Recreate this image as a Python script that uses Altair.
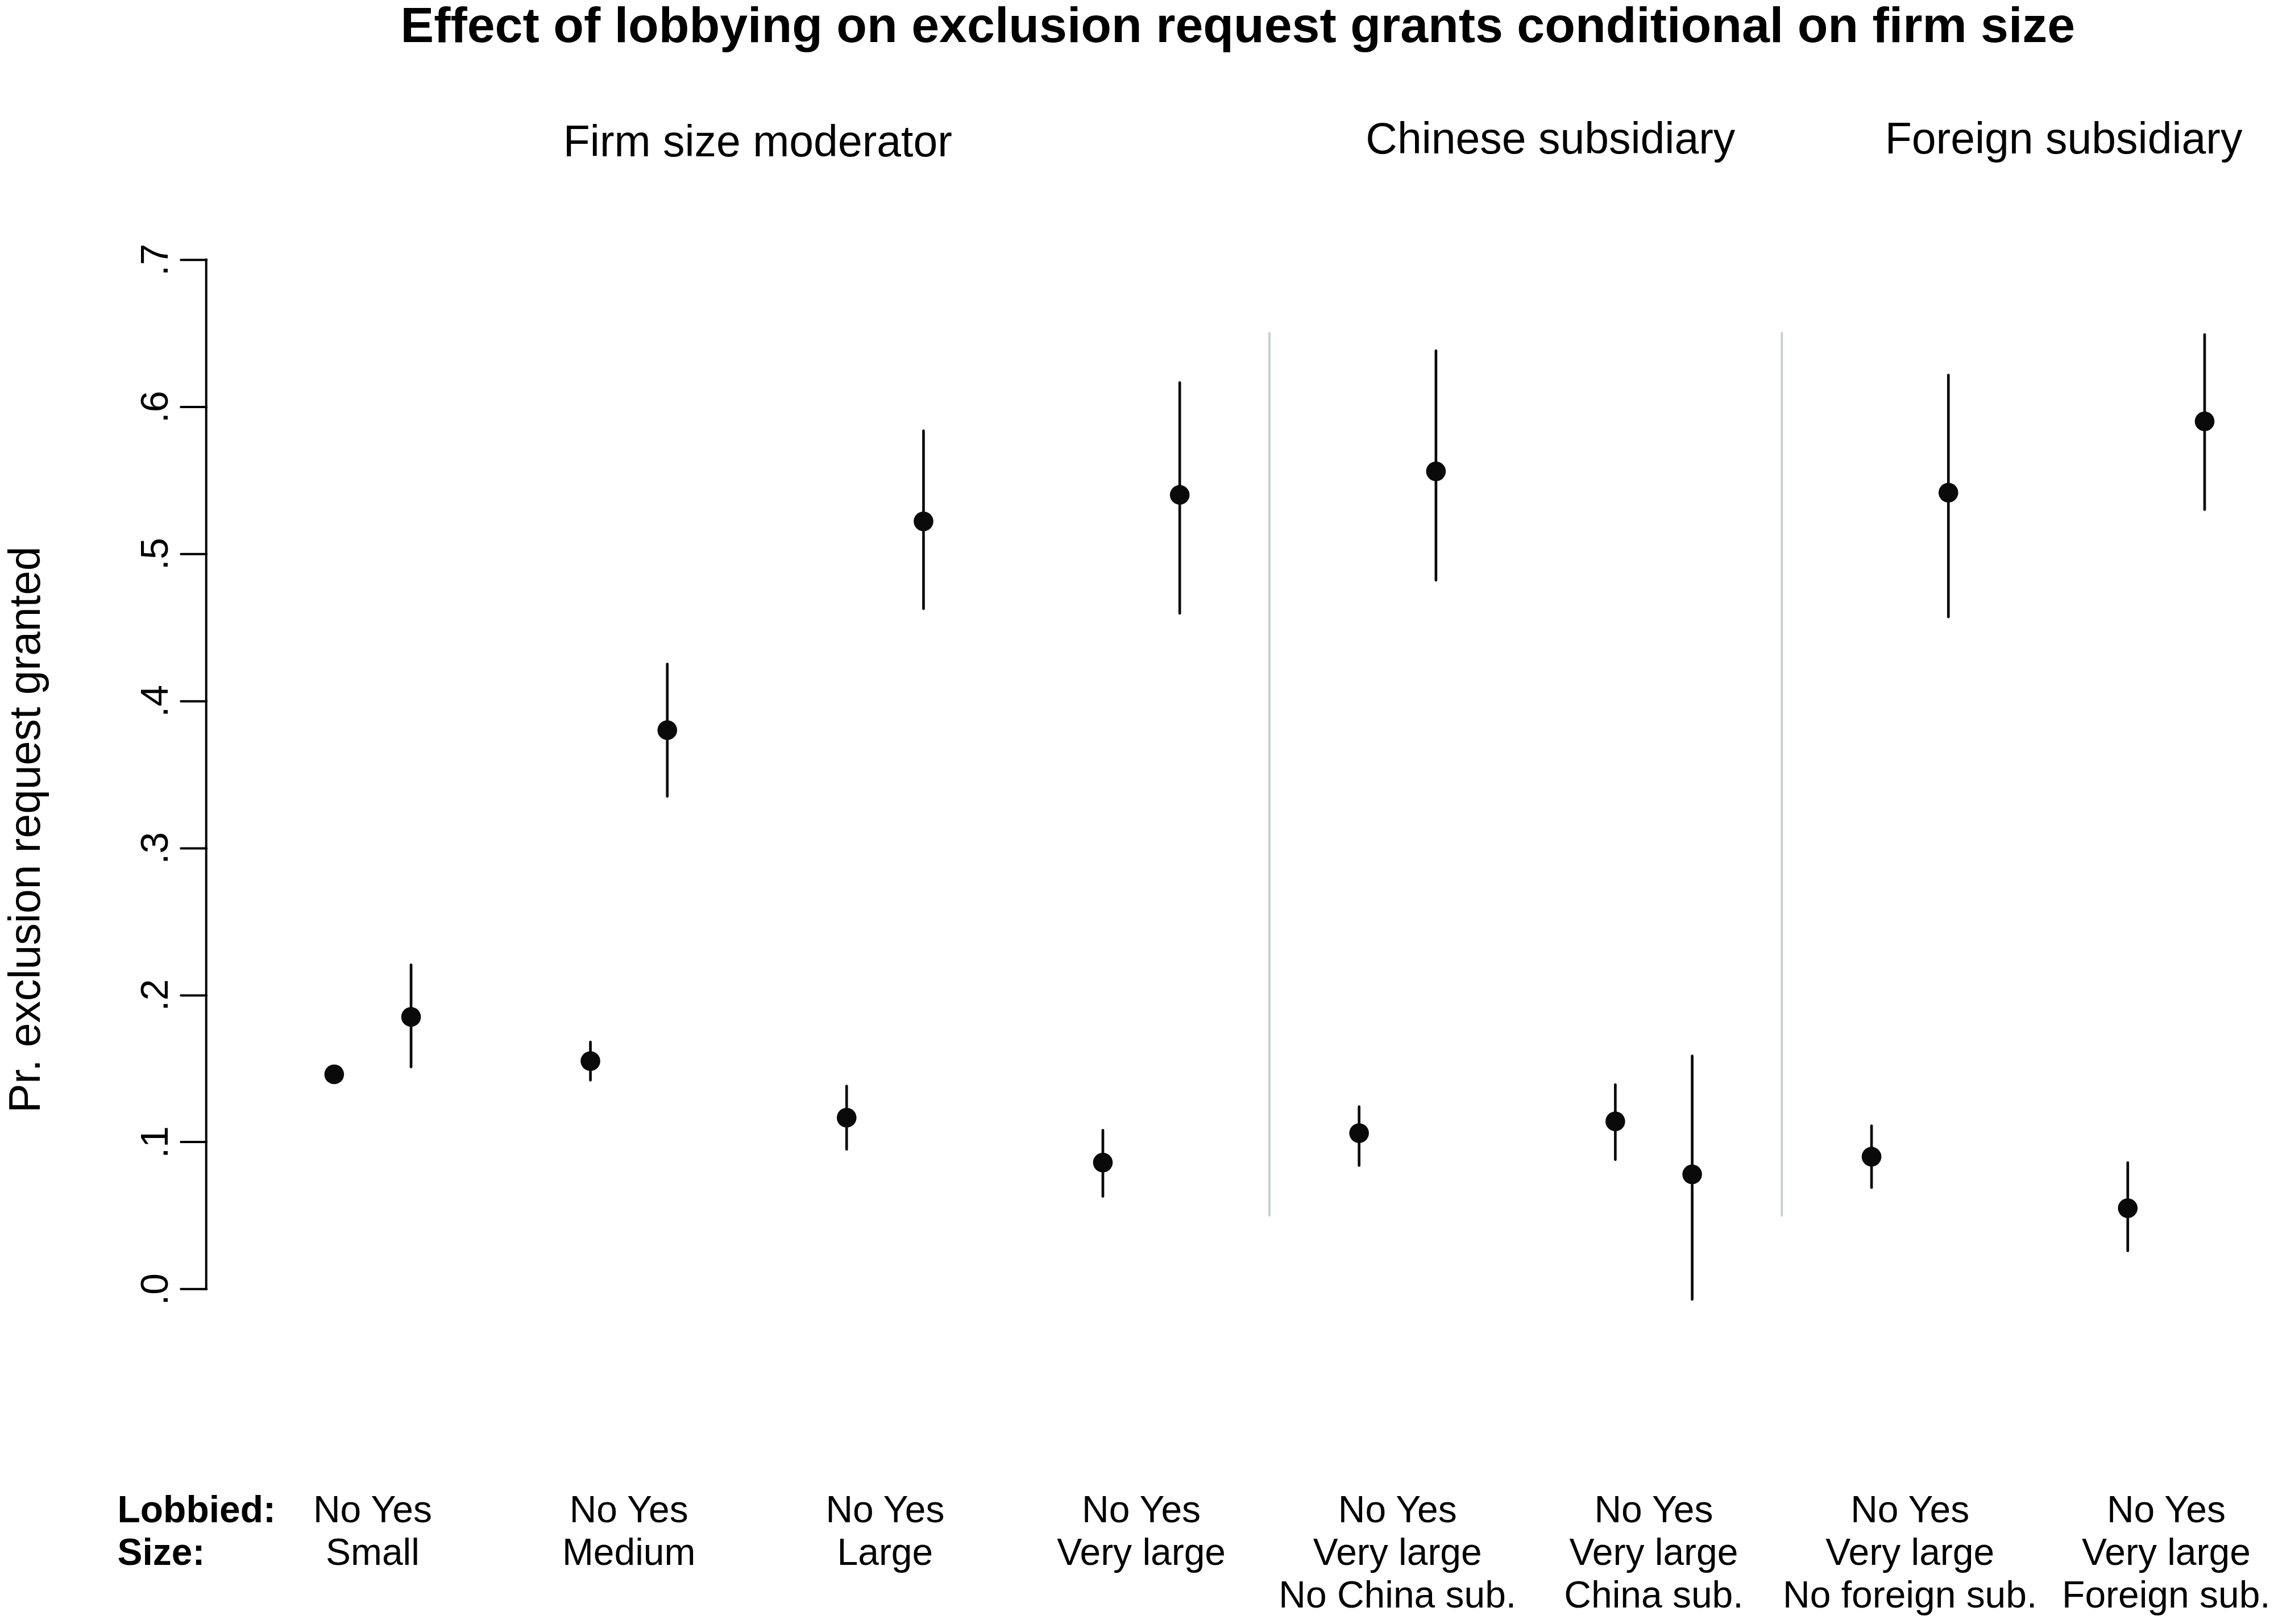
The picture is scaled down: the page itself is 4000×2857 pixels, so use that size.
import altair as alt
import pandas as pd

# ---------------- data ----------------
size_labels = ["Small", "Medium", "Large", "Very large",
               "Very large", "Very large", "Very large", "Very large"]
sub_labels = ["", "", "", "", "No China sub.", "China sub.",
              "No foreign sub.", "Foreign sub."]
lobby_labels = ["No", "Yes"]

est_no = [0.146, 0.155, 0.1165, 0.086, 0.106, 0.114, 0.090, 0.055]
lo_no = [0.144, 0.142, 0.095, 0.063, 0.084, 0.088, 0.069, 0.026]
hi_no = [0.148, 0.168, 0.138, 0.108, 0.124, 0.139, 0.111, 0.086]

est_yes = [0.185, 0.380, 0.522, 0.540, 0.556, 0.078, 0.5415, 0.590]
lo_yes = [0.151, 0.335, 0.4626, 0.4595, 0.482, -0.007, 0.457, 0.530]
hi_yes = [0.2205, 0.425, 0.5836, 0.6163, 0.638, 0.1585, 0.6215, 0.649]

header_labels = ["Firm size moderator", "Chinese subsidiary", "Foreign subsidiary"]
row_titles = ["Lobbied:", "Size:"]
y_ticks = [0.0, 0.1, 0.2, 0.3, 0.4, 0.5, 0.6, 0.7]

# ---------------- layout constants ----------------
FONT = "Liberation Sans"
X_MIN, X_MAX = -0.6495, 7.403
Y_MIN, Y_MAX = -0.22, 0.80
W, H = 3632, 2641
PAD_LEFT, PAD_TOP = 355, 189
DODGE = 0.15
SEP_X = [3.5, 5.5]
SEP_Y = (0.05, 0.65)
HEADER_X = [1.503, 4.597, 6.600]
HEADER_Y = [0.779, 0.781, 0.781]
ROW_Y = [-0.151, -0.180, -0.209]
ROW_TITLE_X = -0.996

# ---------------- tables ----------------
rows = []
for i in range(len(size_labels)):
    for lob, est, lo, hi in (("No", est_no[i], lo_no[i], hi_no[i]),
                             ("Yes", est_yes[i], lo_yes[i], hi_yes[i])):
        rows.append({"x": i + (-DODGE if lob == "No" else DODGE),
                     "est": est, "lo": lo, "hi": hi, "lobbied": lob})
pts = pd.DataFrame(rows)

labels = []
for i in range(len(size_labels)):
    labels.append({"x": i, "y": ROW_Y[0], "t": " ".join(lobby_labels)})
    labels.append({"x": i, "y": ROW_Y[1], "t": size_labels[i]})
    if sub_labels[i]:
        labels.append({"x": i, "y": ROW_Y[2], "t": sub_labels[i]})
lab = pd.DataFrame(labels)

rt = pd.DataFrame({"x": [ROW_TITLE_X, ROW_TITLE_X], "y": ROW_Y[:2], "t": row_titles})
hd = pd.DataFrame({"x": HEADER_X, "y": HEADER_Y, "t": header_labels})
sep = pd.DataFrame({"x": SEP_X, "y": [SEP_Y[0]] * 2, "y2": [SEP_Y[1]] * 2})
axl = pd.DataFrame({"x": [X_MIN], "y": [y_ticks[0]], "y2": [y_ticks[-1]]})

xscale = alt.Scale(domain=[X_MIN, X_MAX], nice=False, zero=False)
yscale = alt.Scale(domain=[Y_MIN, Y_MAX], nice=False, zero=False)
yaxis = alt.Axis(
    values=y_ticks,
    labelExpr="replace(format(datum.value, '.1f'), '0.', '.')",
    title="Pr. exclusion request granted",
    grid=False, domain=False,
    tickSize=45, tickWidth=4, tickColor="black", tickCap="round",
    labelAngle=270, labelAlign="center", labelBaseline="alphabetic",
    labelPadding=23, labelFontSize=68, labelFont=FONT, labelColor="black",
    titleFontSize=77, titleFont=FONT, titleFontWeight="normal", titleColor="black",
    titleAngle=270, titleAlign="center", titleBaseline="middle",
    titleX=-316, titleY=1262,
)


def X(f):
    return alt.X(f, type="quantitative", scale=xscale, axis=None)


def Y(f):
    return alt.Y(f, type="quantitative", scale=yscale, axis=yaxis)


def Y2(f):
    return alt.Y2(f)


base_pts = alt.Chart(pts)

separators = alt.Chart(sep).mark_rule(
    color="#c6cfcf", strokeWidth=4, strokeCap="round"
).encode(x=X("x"), y=Y("y"), y2=Y2("y2"))

axis_line = alt.Chart(axl).mark_rule(
    color="black", strokeWidth=4, strokeCap="square"
).encode(x=X("x"), y=Y("y"), y2=Y2("y2"))

bars = base_pts.mark_rule(
    color="#0a0a0a", strokeWidth=4.7, strokeCap="round"
).encode(x=X("x"), y=Y("lo"), y2=Y2("hi"))

dots = base_pts.mark_circle(size=1200, opacity=1, color="#0a0a0a").encode(
    x=X("x"), y=Y("est"))

headers = alt.Chart(hd).mark_text(
    font=FONT, fontSize=77, color="black", align="center", baseline="middle"
).encode(x=X("x"), y=Y("y"), text="t:N")

bottom = alt.Chart(lab).mark_text(
    font=FONT, fontSize=66, color="black", align="center", baseline="middle"
).encode(x=X("x"), y=Y("y"), text="t:N")

titles = alt.Chart(rt).mark_text(
    font=FONT, fontSize=66, fontWeight="bold", color="black",
    align="left", baseline="middle"
).encode(x=X("x"), y=Y("y"), text="t:N")

chart = alt.layer(
    separators, axis_line, bars, dots, headers, bottom, titles
).properties(
    width=W, height=H,
    autosize=alt.AutoSizeParams(type="none"),
    padding={"left": PAD_LEFT, "top": PAD_TOP, "right": 0, "bottom": 19},
    title=alt.TitleParams(
        text="Effect of lobbying on exclusion request grants conditional on firm size",
        font=FONT, fontSize=88, fontWeight="bold", color="black",
        anchor="middle", offset=106, frame="group"),
    background="white",
).configure_view(stroke=None)

chart.save("out.html", embed_options={"renderer": "svg", "actions": False})
